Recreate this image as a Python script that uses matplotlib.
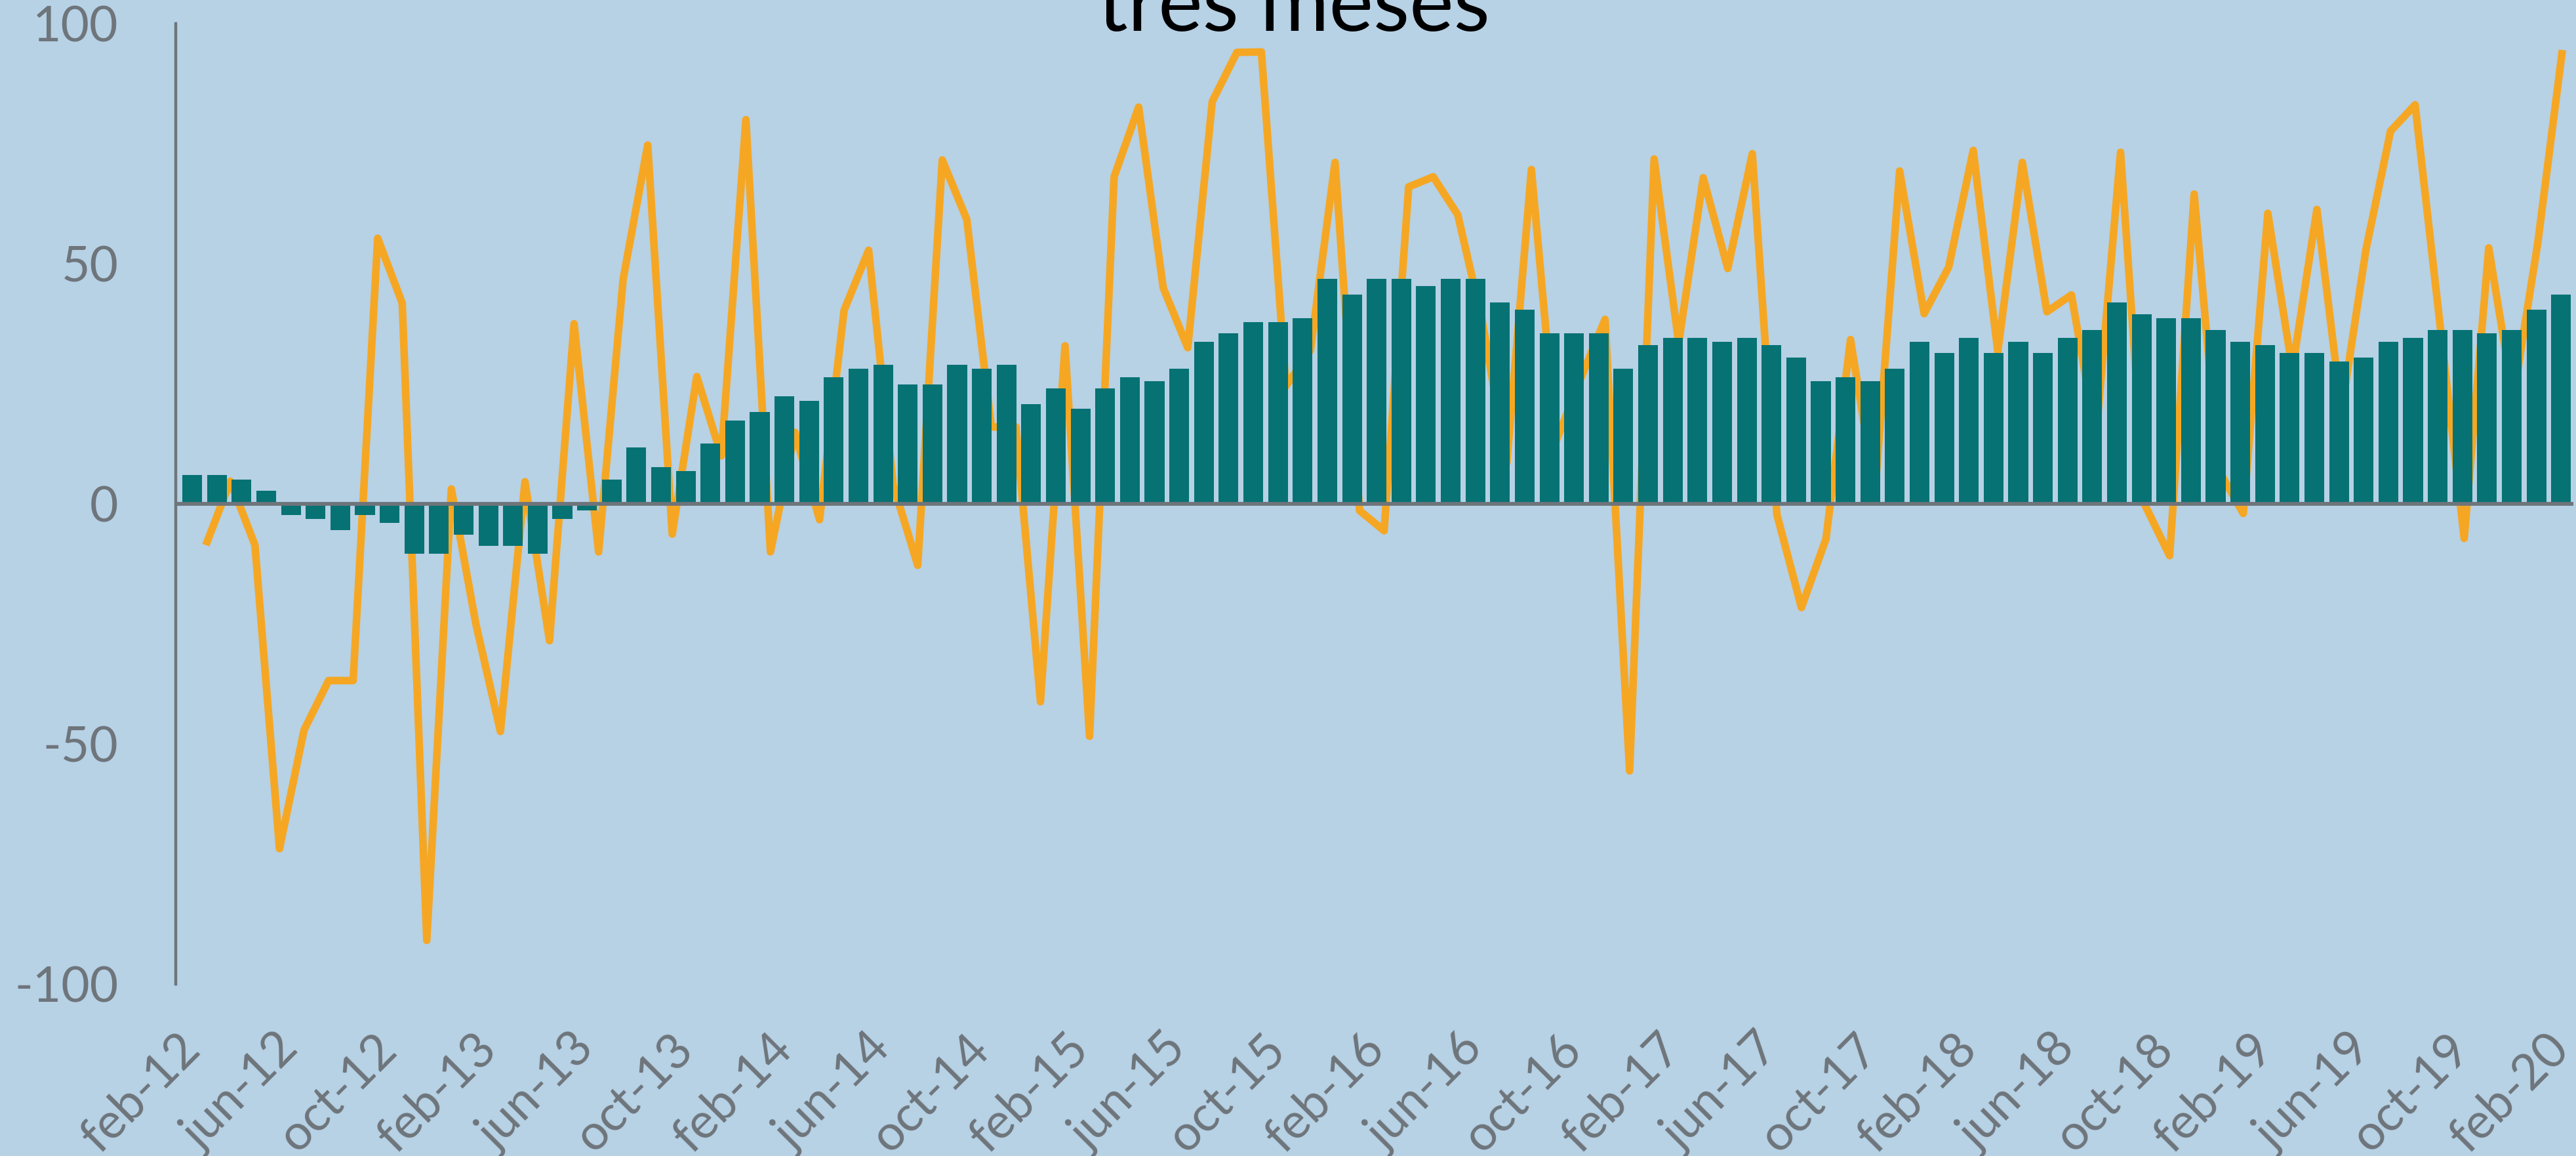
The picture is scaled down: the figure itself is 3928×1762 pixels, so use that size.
import matplotlib
matplotlib.use("Agg")
import matplotlib.pyplot as plt
import numpy as np

# ---------------- data ----------------
month_names = ["ene", "feb", "mar", "abr", "may", "jun", "jul", "ago", "sep", "oct", "nov", "dic"]
categories = [f"{month_names[(1 + i) % 12]}-{12 + (1 + i) // 12}" for i in range(97)]  # feb-12 .. feb-20

tick_labels = ["feb-12", "jun-12", "oct-12", "feb-13", "jun-13", "oct-13", "feb-14", "jun-14",
               "oct-14", "feb-15", "jun-15", "oct-15", "feb-16", "jun-16", "oct-16", "feb-17",
               "jun-17", "oct-17", "feb-18", "jun-18", "oct-18", "feb-19", "jun-19", "oct-19",
               "feb-20"]

bar_values = [6.0, 6.0, 5.1, 2.7, -2.3, -3.1, -5.5, -2.3, -3.9, -10.4,
              -10.4, -6.4, -8.8, -8.8, -10.4, -3.1, -1.4, 5.1, 11.7, 7.6,
              6.8, 12.5, 17.4, 19.1, 22.4, 21.5, 26.4, 28.1, 28.9, 24.8,
              24.8, 28.9, 28.1, 28.9, 20.7, 24.0, 19.8, 24.0, 26.4, 25.6,
              28.1, 33.8, 35.5, 37.9, 37.9, 38.7, 46.9, 43.6, 46.9, 46.9,
              45.3, 46.9, 46.9, 42.0, 40.4, 35.5, 35.5, 35.5, 28.1, 33.0,
              34.6, 34.6, 33.8, 34.6, 33.0, 30.5, 25.6, 26.4, 25.6, 28.1,
              33.8, 31.4, 34.6, 31.4, 33.8, 31.4, 34.6, 36.2, 42.0, 39.5,
              38.7, 38.7, 36.2, 33.8, 33.0, 31.4, 31.4, 29.7, 30.5, 33.8,
              34.6, 36.2, 36.2, 35.5, 36.2, 40.4, 43.6]

line_values = [-8.6, 4.7, -8.6, -71.8, -47.1, -36.8, -36.8, 55.3, 41.8, -90.9,
               3.1, -25.0, -47.4, 4.6, -28.5, 37.5, -10.0, 46.8, 74.7, -6.3,
               26.5, 10.0, 80.0, -10.0, 14.9, -3.3, 40.3, 52.8, 4.0, -12.8,
               71.6, 59.2, 16.0, 16.0, -41.2, 32.9, -48.4, 68.1, 82.6, 45.0,
               32.5, 83.8, 94.0, 94.1, 24.5, 32.0, 71.1, -1.4, -5.6, 66.0,
               68.1, 60.2, 38.0, 8.6, 69.6, 13.0, 26.0, 38.4, -55.6, 71.8,
               33.5, 67.9, 49.0, 72.9, -2.2, -21.6, -7.3, 34.2, 2.5, 69.3,
               39.6, 49.3, 73.6, 31.7, 71.1, 40.0, 43.5, 14.0, 73.2, -0.3,
               -10.8, 64.5, 7.0, -2.0, 60.5, 28.0, 61.3, 19.3, 53.0, 77.6,
               83.1, 38.0, -7.2, 53.3, 22.0, 54.4, 94.5]

y_ticks = [-100, -50, 0, 50, 100]
title_text = "tres meses"

# ---------------- style ----------------
BG = "#B7D1E5"
TEAL = "#067273"
ORANGE = "#F5A723"
GREY = "#6E757B"
FONT = ["Lato", "DejaVu Sans"]

plt.rcParams["font.family"] = FONT

fig = plt.figure(figsize=(39.28, 17.62), dpi=100, facecolor=BG)
ax = fig.add_axes([0.0682, 0.1487, 0.9308, 0.8309])
ax2 = ax.twiny()

# line behind the bars
ax2.set_zorder(ax.get_zorder() - 1)
ax.patch.set_visible(False)
ax2.patch.set_visible(False)

x_bar = np.arange(len(bar_values))
ax.bar(x_bar, bar_values, width=0.8, color=TEAL, zorder=2)
ax.axhline(0, color=GREY, lw=4.2, zorder=3)

x_line = np.arange(len(line_values))
ax2.plot(x_line, line_values, color=ORANGE, lw=8.3,
         solid_joinstyle="round", solid_capstyle="butt")

ax.set_xlim(-0.67, 96.5)
ax2.set_xlim(-1.229, 96.45)
ax.set_ylim(-100, 100)

for s in ["top", "right", "bottom"]:
    ax.spines[s].set_visible(False)
    ax2.spines[s].set_visible(False)
ax2.spines["left"].set_visible(False)
ax.spines["left"].set_color(GREY)
ax.spines["left"].set_linewidth(3.2)

ax2.set_xticks([])
ax2.tick_params(axis="both", length=0, labeltop=False, labelbottom=False)

ax.set_yticks(y_ticks)
ax.set_yticklabels([str(v) for v in y_ticks])
ax.tick_params(axis="y", length=0, pad=63, labelsize=54, labelcolor=GREY)

ax.set_xticks(np.arange(0, len(bar_values), 4))
ax.set_xticklabels(tick_labels, rotation=45, ha="right", va="center",
                   rotation_mode="anchor")
ax.tick_params(axis="x", length=0, pad=63, labelsize=54, labelcolor=GREY)

fig.text(0.5024, 0.9733, title_text, ha="center", va="baseline",
         fontsize=92, color="black", family=FONT)

fig.savefig("out.png", dpi=100, facecolor=BG)
